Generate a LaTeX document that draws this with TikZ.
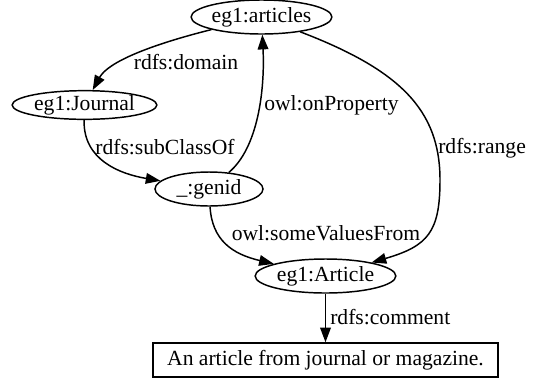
\documentclass[tikz,border=0pt]{standalone}
\usepackage{fontspec}
\setmainfont{Liberation Serif}
\usetikzlibrary{arrows.meta,shapes.geometric}
\begin{document}
\begin{tikzpicture}[x=0.75pt,y=-0.75pt,
  every node/.style={font=\fontsize{16.2}{18}\selectfont},
  res/.style={ellipse,draw,line width=1.1pt,inner sep=0pt},
  lit/.style={rectangle,draw,line width=1.1pt,inner sep=0pt},
  edge/.style={line width=1.1pt,-{Triangle[length=11pt,width=8pt]}},
  lab/.style={inner sep=0pt}]
\useasboundingbox (0,0) rectangle (538,383);
\node[res,minimum width=105pt,minimum height=25.5pt] (art) at (261.5,17) {eg1:articles};
\node[res,minimum width=108.5pt,minimum height=21.5pt] (jou) at (84.5,105) {eg1:Journal};
\node[res,minimum width=81pt,minimum height=25.5pt] (gen) at (209,189) {\_:genid};
\node[res,minimum width=105.5pt,minimum height=25.5pt] (Art) at (325.5,276) {eg1:Article};
\node[lit,minimum width=258.5pt,minimum height=25.5pt] (com) at (325.5,360) {An article from journal or magazine.};
\draw[edge] (art) .. controls (150,45) and (108,62) .. (jou);
\draw[edge] (jou) .. controls (83,160) and (120,174) .. (gen);
\draw[edge] (gen) .. controls (258,148) and (265,90) .. (art);
\draw[edge] (art) .. controls (400,70) and (440,110) .. (440,180) .. controls (440,232) and (428,246) .. (Art);
\draw[edge] (gen) .. controls (212,240) and (232,254) .. (Art);
\draw[edge] (Art) -- (com);
\node[lab] (l1) at (186,62) {rdfs:domain};
\node[lab] (l2) at (165,147) {rdfs:subClassOf};
\node[lab,anchor=west] (l3) at (264,105) {owl:onProperty};
\node[lab,anchor=west] (l4) at (438,148) {rdfs:range};
\node[lab] (l5) at (326,233) {owl:someValuesFrom};
\node[lab,anchor=west] (l6) at (330,317) {rdfs:comment};
\end{tikzpicture}
\end{document}
